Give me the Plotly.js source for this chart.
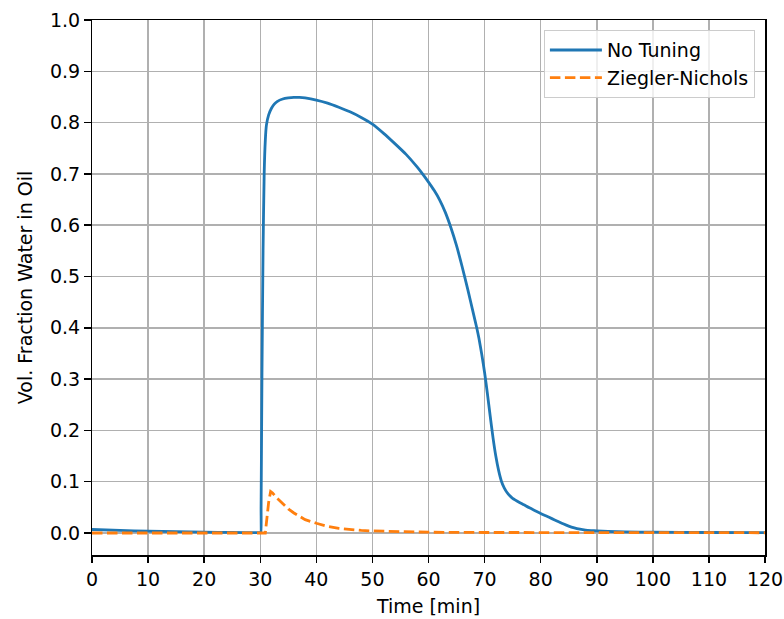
<!DOCTYPE html>
<html>
<head>
<meta charset="utf-8">
<script src="https://cdn.plot.ly/plotly-3.0.1.min.js"></script>
<style>html,body{margin:0;padding:0;background:#fff;} #chart{width:784px;height:619px;}</style>
</head>
<body>
<div id="chart"></div>
<script>
// Time [min] and volume fraction of water in oil
const tNoTuning = [0, 5, 10, 15, 20, 25, 30, 30.1, 30.15, 30.3, 30.5, 30.7, 30.9, 31.1, 31.5, 32, 32.5, 33, 34, 35, 36, 37, 38, 40, 42, 44, 46, 48, 50, 52, 54, 56, 58, 59, 60, 61, 62, 63, 64, 65, 66, 67, 68, 68.6, 69, 69.5, 70, 70.5, 71, 71.5, 72, 72.5, 73, 73.5, 74, 74.5, 75, 75.5, 76, 77, 78, 79, 80, 81, 82, 83, 84, 85, 86, 87, 88, 89, 90, 92, 95, 100, 110, 120];
const yNoTuning = [0.0068, 0.0050, 0.0035, 0.0025, 0.0017, 0.0011, 0.0007, 0.0007, 0.05, 0.30, 0.55, 0.70, 0.765, 0.795, 0.815, 0.828, 0.836, 0.841, 0.846, 0.848, 0.849, 0.849, 0.848, 0.844, 0.838, 0.830, 0.821, 0.810, 0.797, 0.779, 0.759, 0.738, 0.713, 0.699, 0.684, 0.668, 0.649, 0.625, 0.595, 0.560, 0.519, 0.475, 0.428, 0.400, 0.379, 0.348, 0.313, 0.272, 0.228, 0.186, 0.150, 0.122, 0.101, 0.088, 0.079, 0.0725, 0.0675, 0.064, 0.0608, 0.055, 0.049, 0.0435, 0.038, 0.033, 0.028, 0.023, 0.018, 0.0135, 0.010, 0.0075, 0.0058, 0.0048, 0.004, 0.003, 0.002, 0.0015, 0.001, 0.0008];

const tZN = [0, 10, 20, 30, 30.9, 31.2, 31.5, 31.85, 32.2, 33, 34, 35, 36, 37, 38, 40, 42, 44, 46, 48, 50, 55, 60, 70, 80, 100, 120];
const yZN = [0, 0, 0, 0, 0, 0.03, 0.06, 0.081, 0.078, 0.068, 0.057, 0.047, 0.039, 0.032, 0.026, 0.019, 0.013, 0.009, 0.0065, 0.005, 0.004, 0.0025, 0.0015, 0.001, 0.0008, 0.0006, 0.0005];

const seriesNames = ['No Tuning', 'Ziegler-Nichols'];
const xTicks = [0, 10, 20, 30, 40, 50, 60, 70, 80, 90, 100, 110, 120];
const yTicks = [0, 0.1, 0.2, 0.3, 0.4, 0.5, 0.6, 0.7, 0.8, 0.9, 1.0];

const FONT = 'DejaVu Sans, Liberation Sans, sans-serif';
const FS = 19;

const traces = [
  {x: tNoTuning, y: yNoTuning, name: seriesNames[0], mode: 'lines',
   line: {color: '#1f77b4', width: 2.8, shape: 'spline', smoothing: 0.6}},
  {x: tZN, y: yZN, name: seriesNames[1], mode: 'lines',
   line: {color: '#ff7f0e', width: 2.8, dash: '10.5px,4.5px'}}
];

const axisCommon = {
  showline: true, mirror: true, linecolor: '#000', linewidth: 1.5,
  ticks: 'outside', ticklen: 6.5, tickwidth: 1.5, tickcolor: '#000',
  showgrid: true, gridcolor: '#b0b0b0', gridwidth: 1.5,
  zeroline: false,
  tickfont: {family: FONT, size: FS, color: '#000'}
};

const layout = {
  width: 784, height: 619,
  margin: {l: 92, r: 19, t: 20, b: 64},
  paper_bgcolor: '#fff', plot_bgcolor: '#fff',
  font: {family: FONT, size: FS, color: '#000'},
  showlegend: true,
  xaxis: Object.assign({}, axisCommon, {
    range: [0, 120], tickvals: xTicks, ticktext: xTicks.map(String),
    title: {text: 'Time [min]', font: {family: FONT, size: FS, color: '#000'}, standoff: 11}
  }),
  yaxis: Object.assign({}, axisCommon, {
    range: [-0.0429, 1.0], tickvals: yTicks, ticktext: yTicks.map(v => v.toFixed(1)),
    title: {text: 'Vol. Fraction Water in Oil', font: {family: FONT, size: FS, color: '#000'}, standoff: 12}
  }),
  legend: {
    x: 0.985, y: 0.981, xanchor: 'right', yanchor: 'top',
    bgcolor: 'rgba(255,255,255,0.8)', bordercolor: '#cccccc', borderwidth: 1,
    font: {family: FONT, size: FS, color: '#000'},
    itemwidth: 52
  }
};

Plotly.newPlot('chart', traces, layout, {displayModeBar: false, staticPlot: true});
</script>
</body>
</html>
